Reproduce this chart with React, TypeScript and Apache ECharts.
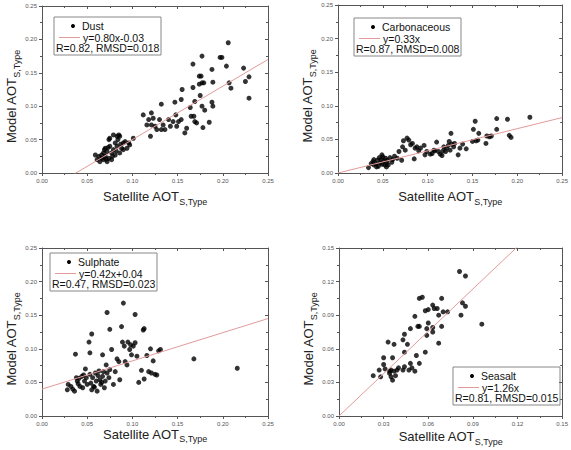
import React, { useEffect, useRef } from "react";
import * as echarts from "echarts";

// Satellite vs model aerosol optical thickness, one panel per aerosol type
const dustSat = [
  0.059, 0.063, 0.064, 0.066, 0.068, 0.070, 0.072, 0.072, 0.074, 0.075, 0.075, 0.077, 0.077, 0.079,
  0.081, 0.081, 0.083, 0.083, 0.085, 0.086, 0.088, 0.090, 0.092, 0.094, 0.096, 0.097, 0.101, 0.070,
  0.074, 0.079, 0.086, 0.090, 0.061, 0.068, 0.066, 0.071, 0.078, 0.082, 0.084, 0.087, 0.073, 0.069,
  0.112, 0.116, 0.118, 0.120, 0.121, 0.121, 0.123, 0.125, 0.127, 0.130, 0.132, 0.132, 0.134, 0.136,
  0.140, 0.142, 0.145, 0.147, 0.148, 0.149, 0.151, 0.154, 0.155, 0.154, 0.158, 0.160,
  0.164, 0.165, 0.167, 0.167, 0.168, 0.169, 0.169, 0.171, 0.174, 0.174, 0.175, 0.176, 0.177, 0.177,
  0.177, 0.178, 0.179, 0.180, 0.185, 0.188, 0.188, 0.189, 0.189, 0.197, 0.199, 0.204, 0.207, 0.206,
  0.209, 0.223, 0.225, 0.229, 0.229,
];
const dustModel = [
  0.027, 0.025, 0.017, 0.022, 0.020, 0.025, 0.017, 0.032, 0.022, 0.040, 0.052, 0.020, 0.030, 0.057,
  0.045, 0.027, 0.055, 0.040, 0.057, 0.055, 0.037, 0.045, 0.047, 0.037, 0.045, 0.042, 0.052, 0.037,
  0.050, 0.035, 0.030, 0.035, 0.020, 0.030, 0.027, 0.021, 0.025, 0.033, 0.050, 0.043, 0.038, 0.035,
  0.087, 0.072, 0.080, 0.055, 0.090, 0.072, 0.082, 0.070, 0.065, 0.080, 0.103, 0.065, 0.072, 0.065,
  0.080, 0.070, 0.077, 0.106, 0.087, 0.070, 0.077, 0.110, 0.125, 0.080, 0.060, 0.067,
  0.098, 0.085, 0.163, 0.128, 0.085, 0.107, 0.077, 0.075, 0.145, 0.133, 0.116, 0.145, 0.135, 0.100,
  0.175, 0.068, 0.135, 0.094, 0.076, 0.155, 0.106, 0.136, 0.100, 0.173, 0.173, 0.160, 0.135, 0.195,
  0.127, 0.157, 0.137, 0.144, 0.112,
];

const carbSat = [
  0.034, 0.039, 0.040, 0.042, 0.044, 0.045, 0.047, 0.048, 0.049, 0.050, 0.051, 0.052, 0.053, 0.054,
  0.055, 0.056, 0.058, 0.060, 0.061, 0.063, 0.046, 0.043, 0.037, 0.054, 0.040, 0.049,
  0.066, 0.068, 0.071, 0.072, 0.073, 0.075, 0.077, 0.079, 0.081, 0.083, 0.085, 0.086, 0.088, 0.090,
  0.092, 0.096, 0.097, 0.099, 0.103, 0.105, 0.107, 0.108, 0.110, 0.112, 0.114, 0.116, 0.117, 0.118,
  0.120, 0.121, 0.123, 0.124, 0.125, 0.126, 0.127, 0.129, 0.130, 0.134, 0.136, 0.139, 0.143,
  0.150, 0.151, 0.153, 0.154, 0.156, 0.157, 0.165, 0.166, 0.169, 0.171, 0.177, 0.177, 0.189, 0.191,
  0.193, 0.214,
];
const carbModel = [
  0.008, 0.017, 0.012, 0.014, 0.019, 0.010, 0.015, 0.020, 0.013, 0.024, 0.018, 0.012, 0.022, 0.015,
  0.019, 0.012, 0.023, 0.016, 0.020, 0.025, 0.023, 0.009, 0.014, 0.009, 0.020, 0.027,
  0.022, 0.032, 0.019, 0.039, 0.048, 0.034, 0.052, 0.049, 0.042, 0.044, 0.021, 0.037, 0.039, 0.033,
  0.037, 0.041, 0.027, 0.032, 0.028, 0.029, 0.034, 0.033, 0.046, 0.032, 0.028, 0.026, 0.033, 0.039,
  0.032, 0.037, 0.041, 0.047, 0.034, 0.059, 0.043, 0.039, 0.044, 0.027, 0.037, 0.043, 0.036,
  0.047, 0.065, 0.077, 0.048, 0.049, 0.059, 0.044, 0.055, 0.054, 0.055, 0.065, 0.081, 0.080, 0.056,
  0.053, 0.083,
];

const sulphSat = [
  0.028, 0.029, 0.032, 0.034, 0.036, 0.037, 0.038, 0.039, 0.040, 0.042, 0.044, 0.045, 0.047, 0.048,
  0.049, 0.050, 0.052, 0.053, 0.053, 0.054, 0.055, 0.055, 0.056, 0.058, 0.059, 0.060, 0.061, 0.063,
  0.064, 0.065, 0.067, 0.067, 0.069, 0.070, 0.071, 0.072, 0.072, 0.074, 0.075, 0.075, 0.077, 0.079,
  0.081, 0.083, 0.085, 0.086, 0.088, 0.089, 0.090, 0.091, 0.092, 0.094, 0.095, 0.097, 0.098, 0.099,
  0.101, 0.103, 0.103, 0.105, 0.107, 0.110, 0.112, 0.113, 0.113, 0.116, 0.118, 0.120, 0.121, 0.123,
  0.125, 0.127, 0.129, 0.131, 0.168, 0.216, 0.068, 0.046, 0.041, 0.062, 0.057, 0.066,
];
const sulphModel = [
  0.039, 0.047, 0.044, 0.040, 0.037, 0.092, 0.057, 0.052, 0.048, 0.044, 0.059, 0.042, 0.052, 0.070,
  0.057, 0.047, 0.110, 0.094, 0.062, 0.049, 0.122, 0.039, 0.057, 0.043, 0.064, 0.052, 0.037, 0.067,
  0.054, 0.047, 0.091, 0.059, 0.042, 0.052, 0.076, 0.154, 0.064, 0.057, 0.069, 0.129, 0.099, 0.047,
  0.066, 0.085, 0.081, 0.054, 0.133, 0.110, 0.168, 0.104, 0.081, 0.076, 0.110, 0.099, 0.106, 0.091,
  0.104, 0.151, 0.109, 0.089, 0.050, 0.068, 0.128, 0.130, 0.055, 0.090, 0.066, 0.100, 0.064, 0.082,
  0.062, 0.061, 0.097, 0.099, 0.085, 0.071, 0.066, 0.061, 0.056, 0.060, 0.044, 0.050,
];

const seasaltSat = [
  0.023, 0.027, 0.028, 0.030, 0.030, 0.031, 0.033, 0.034, 0.034, 0.035, 0.035, 0.036, 0.036, 0.037,
  0.037, 0.038, 0.039, 0.040, 0.043, 0.043, 0.044, 0.044, 0.044, 0.046, 0.047, 0.048, 0.048, 0.049,
  0.051, 0.051, 0.052, 0.053, 0.054, 0.054, 0.054, 0.056, 0.058, 0.058, 0.059, 0.059, 0.060, 0.060,
  0.063, 0.063, 0.063, 0.064, 0.066, 0.067, 0.067, 0.069, 0.069, 0.070, 0.073, 0.081, 0.082, 0.083,
  0.085, 0.085, 0.096,
];
const seasaltModel = [
  0.036, 0.041, 0.035, 0.052, 0.046, 0.042, 0.066, 0.040, 0.038, 0.041, 0.035, 0.032, 0.052, 0.040,
  0.064, 0.036, 0.041, 0.043, 0.068, 0.041, 0.057, 0.044, 0.073, 0.064, 0.041, 0.078, 0.047, 0.043,
  0.089, 0.040, 0.054, 0.080, 0.105, 0.080, 0.047, 0.106, 0.057, 0.094, 0.078, 0.072, 0.095, 0.083,
  0.099, 0.079, 0.075, 0.096, 0.096, 0.065, 0.090, 0.105, 0.080, 0.093, 0.093, 0.129, 0.090, 0.101,
  0.125, 0.098, 0.082,
];

const panelNames = ["Dust", "Carbonaceous", "Sulphate", "Seasalt"];
const fitSlopes = [0.8, 0.33, 0.42, 1.26];
const fitIntercepts = [-0.03, 0, 0.04, 0];
const fitLabels = ["y=0.80x-0.03", "y=0.33x", "y=0.42x+0.04", "y=1.26x"];
const statLabels = ["R=0.82, RMSD=0.018", "R=0.87, RMSD=0.008", "R=0.47, RMSD=0.023", "R=0.81, RMSD=0.015"];
const axisMaxima = [0.25, 0.25, 0.25, 0.15];
const axisSteps = [0.05, 0.05, 0.05, 0.03];

const satValues = [dustSat, carbSat, sulphSat, seasaltSat];
const modelValues = [dustModel, carbModel, sulphModel, seasaltModel];

// panel layout
const grids = [
  { left: 42, top: 6, width: 226, height: 167 },
  { left: 338, top: 5, width: 227, height: 168 },
  { left: 42, top: 248, width: 226, height: 168 },
  { left: 339, top: 248, width: 226, height: 168 },
];
const legendCorners = [
  [54, 17],
  [354, 18],
  [50, 253],
  [453, 367],
];
const xNameGaps = [17, 17, 9, 14];

const FONT = "Liberation Sans, Arial, sans-serif";
const AXIS_COLOR = "#555";
const FIT_COLOR = "#e39a9a";

const titleRich = {
  m: { fontSize: 13, lineHeight: 13, verticalAlign: "top", color: "#222", fontFamily: FONT },
  s: { fontSize: 9, lineHeight: 9, padding: [7, 0, 0, 0], verticalAlign: "top", color: "#222", fontFamily: FONT },
};

function buildOption() {
  const xAxis: any[] = [];
  const yAxis: any[] = [];
  const series: any[] = [];
  const graphic: any[] = [];

  grids.forEach((_, i) => {
    const max = axisMaxima[i];
    const step = axisSteps[i];
    const common = {
      gridIndex: i,
      type: "value",
      min: 0,
      max,
      interval: step,
      splitLine: { show: false },
      axisLine: { show: true, onZero: false, lineStyle: { color: AXIS_COLOR, width: 1 } },
    };
    const fmt = (v: number) => v.toFixed(2);
    xAxis.push({
      ...common,
      position: "bottom",
      name: "{m|Satellite AOT}{s|S,Type}",
      nameLocation: "middle",
      nameGap: xNameGaps[i],
      nameTextStyle: { rich: titleRich },
      axisTick: { show: true, length: 3, lineStyle: { color: AXIS_COLOR } },
      minorTick: { show: true, splitNumber: 2, length: 2, lineStyle: { color: AXIS_COLOR } },
      axisLabel: { formatter: fmt, fontSize: 6, color: "#555", margin: 5, fontFamily: FONT },
    });
    xAxis.push({
      ...common,
      position: "top",
      axisTick: { show: true, inside: true, length: 3, lineStyle: { color: AXIS_COLOR } },
      minorTick: { show: true, splitNumber: 2, length: 2, lineStyle: { color: AXIS_COLOR } },
      axisLabel: { show: false },
    });
    yAxis.push({
      ...common,
      position: "left",
      name: "{m|Model AOT}{s|S,Type}",
      nameLocation: "middle",
      nameRotate: 90,
      nameGap: 21,
      nameTextStyle: { rich: titleRich, padding: [0, 14, 0, 0] },
      axisTick: { show: true, length: 3, lineStyle: { color: AXIS_COLOR } },
      minorTick: { show: true, splitNumber: 2, length: 2, lineStyle: { color: AXIS_COLOR } },
      axisLabel: { formatter: fmt, fontSize: 6, color: "#555", margin: 5, fontFamily: FONT },
    });
    yAxis.push({
      ...common,
      position: "right",
      axisTick: { show: true, inside: true, length: 3, lineStyle: { color: AXIS_COLOR } },
      minorTick: { show: true, splitNumber: 2, length: 2, lineStyle: { color: AXIS_COLOR } },
      axisLabel: { show: false },
    });

    const sat = satValues[i];
    const mod = modelValues[i];
    series.push({
      type: "scatter",
      xAxisIndex: 2 * i,
      yAxisIndex: 2 * i,
      symbolSize: 5,
      itemStyle: { color: "#000" },
      data: sat.map((x, k) => [x, mod[k]]),
    });
    const a = fitSlopes[i];
    const b = fitIntercepts[i];
    series.push({
      type: "line",
      xAxisIndex: 2 * i,
      yAxisIndex: 2 * i,
      symbol: "none",
      clip: true,
      lineStyle: { color: FIT_COLOR, width: 1 },
      data: [
        [0, b],
        [max, a * max + b],
      ],
    });

    // legend block
    const [lx, ly] = legendCorners[i];
    graphic.push({
      type: "group",
      x: lx,
      y: ly,
      children: [
        { type: "rect", shape: { x: 0, y: 0, width: 107, height: 38 }, style: { fill: "#fff", stroke: "#888", lineWidth: 1 } },
        { type: "circle", shape: { cx: 19, cy: 9, r: 2 }, style: { fill: "#000" } },
        { type: "text", x: 28, y: 9, style: { text: panelNames[i], fontSize: 10.5, fontFamily: FONT, fill: "#111", verticalAlign: "middle" } },
        { type: "line", shape: { x1: 5, y1: 20.5, x2: 26, y2: 20.5 }, style: { stroke: FIT_COLOR, lineWidth: 1 } },
        { type: "text", x: 29, y: 20.5, style: { text: fitLabels[i], fontSize: 10.5, fontFamily: FONT, fill: "#111", verticalAlign: "middle" } },
        { type: "text", x: 2, y: 31, style: { text: statLabels[i], fontSize: 10.5, fontFamily: FONT, fill: "#111", verticalAlign: "middle" } },
      ],
    });
  });

  return {
    animation: false,
    backgroundColor: "#fff",
    grid: grids.map((g) => ({ ...g, containLabel: false })),
    xAxis,
    yAxis,
    series,
    graphic,
  };
}

export default function App() {
  const ref = useRef<HTMLDivElement>(null);
  useEffect(() => {
    if (!ref.current) return;
    const chart = echarts.init(ref.current, undefined, { renderer: "svg" });
    chart.setOption(buildOption() as any);
    return () => chart.dispose();
  }, []);
  return <div ref={ref} style={{ position: "fixed", left: 0, top: 0, width: 571, height: 450 }} />;
}
